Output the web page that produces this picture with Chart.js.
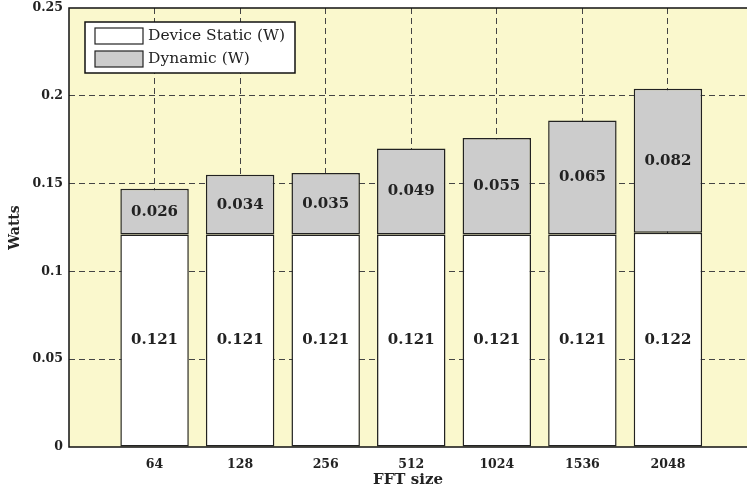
<!DOCTYPE html>
<html>
<head>
<meta charset="utf-8">
<script src="https://cdn.jsdelivr.net/npm/chart.js@4"></script>
<style>
  body { margin: 0; background: #fff; }
  #wrap { width: 747px; height: 492px; position: relative; }
</style>
</head>
<body>
<div id="wrap"><canvas id="chart"></canvas></div>
<script>
const fftSizes = ['64', '128', '256', '512', '1024', '1536', '2048'];
const staticW = [0.121, 0.121, 0.121, 0.121, 0.121, 0.121, 0.122];
const dynamicW = [0.026, 0.034, 0.035, 0.049, 0.055, 0.065, 0.082];
const yTicks = [0, 0.05, 0.1, 0.15, 0.2, 0.25];

const serif = 'DejaVu Serif';

// bars sit at x = 1..7 like matlab, axis starts at 0
const toPoints = (arr) => arr.map((v, i) => ({ x: i + 1, y: v }));

const plotBg = {
  id: 'plotBg',
  beforeDraw(chart) {
    const { ctx, chartArea: a } = chart;
    ctx.save();
    ctx.fillStyle = '#faf8cd';
    ctx.fillRect(a.left, a.top, a.right - a.left, a.bottom - a.top);
    ctx.restore();
  },
  afterDatasetsDraw(chart) {
    // solid box on left, bottom and top (right edge is off the page)
    const { ctx, chartArea: a } = chart;
    ctx.save();
    ctx.strokeStyle = '#111';
    ctx.lineWidth = 1.5;
    ctx.setLineDash([]);
    ctx.beginPath();
    ctx.moveTo(a.right, a.top);
    ctx.lineTo(a.left, a.top);
    ctx.lineTo(a.left, a.bottom);
    ctx.lineTo(a.right, a.bottom);
    ctx.stroke();
    ctx.restore();
  }
};

// numbers inside each bar segment
const barLabels = {
  id: 'barLabels',
  afterDatasetsDraw(chart) {
    const { ctx } = chart;
    ctx.save();
    ctx.font = 'bold 15px "' + serif + '"';
    ctx.fillStyle = '#222';
    ctx.textAlign = 'center';
    ctx.textBaseline = 'middle';
    chart.data.datasets.forEach((ds, di) => {
      chart.getDatasetMeta(di).data.forEach((bar, i) => {
        ctx.fillText(ds.data[i].y.toFixed(3), bar.x, (bar.y + bar.base) / 2);
      });
    });
    ctx.restore();
  }
};

// boxed legend in upper left of the axes
const boxLegend = {
  id: 'boxLegend',
  afterDraw(chart) {
    const { ctx, chartArea: a } = chart;
    const x = a.left + 16, y = a.top + 14, w = 210, h = 51;
    ctx.save();
    ctx.fillStyle = '#fff';
    ctx.fillRect(x, y, w, h);
    ctx.strokeStyle = '#111';
    ctx.lineWidth = 1.5;
    ctx.strokeRect(x, y, w, h);
    ctx.font = '15.5px "' + serif + '"';
    ctx.textBaseline = 'middle';
    chart.data.datasets.forEach((ds, i) => {
      const sy = y + 6 + i * 23;
      ctx.fillStyle = ds.backgroundColor;
      ctx.fillRect(x + 10, sy, 48, 16);
      ctx.strokeStyle = '#222';
      ctx.lineWidth = 1.2;
      ctx.strokeRect(x + 10, sy, 48, 16);
      ctx.fillStyle = '#222';
      ctx.fillText(ds.label, x + 63, sy + 8);
    });
    ctx.restore();
  }
};

new Chart(document.getElementById('chart'), {
  type: 'bar',
  data: {
    datasets: [
      {
        label: 'Device Static (W)',
        data: toPoints(staticW),
        backgroundColor: '#ffffff',
        borderColor: '#222',
        borderWidth: 1.5,
        borderSkipped: false,
        categoryPercentage: 1,
        barPercentage: 0.8
      },
      {
        label: 'Dynamic (W)',
        data: toPoints(dynamicW),
        backgroundColor: '#cccccc',
        borderColor: '#222',
        borderWidth: 1.5,
        borderSkipped: false,
        categoryPercentage: 1,
        barPercentage: 0.8
      }
    ]
  },
  options: {
    responsive: true,
    maintainAspectRatio: false,
    animation: false,
    layout: { padding: { top: 8, right: 0, left: 0, bottom: 0 } },
    plugins: {
      legend: { display: false },
      tooltip: { enabled: false }
    },
    scales: {
      x: {
        type: 'linear',
        stacked: true,
        offset: false,
        min: 0,
        max: 7.924,
        afterFit: (s) => { s.height = 45; s.paddingLeft = 0; s.paddingRight = 0; },
        afterBuildTicks: (s) => { s.ticks = [0, 1, 2, 3, 4, 5, 6, 7].map(v => ({ value: v })); },
        ticks: {
          padding: 10,
          color: '#222',
          font: { family: serif, weight: 'bold', size: 12.5 },
          callback: (v) => fftSizes[v - 1] || ''
        },
        grid: {
          offset: false,
          drawTicks: false,
          color: (c) => c.tick && c.tick.value === 0 ? 'rgba(0,0,0,0)' : '#444',
          lineWidth: 1
        },
        border: { display: false, dash: [6, 4] },
        title: {
          display: true,
          text: 'FFT size',
          color: '#222',
          padding: { top: 0, bottom: 3 },
          font: { family: serif, weight: 'bold', size: 15 }
        }
      },
      y: {
        stacked: true,
        min: 0,
        max: 0.25,
        afterFit: (s) => { s.width = 69; s.paddingTop = 0; s.paddingBottom = 0; },
        afterBuildTicks: (s) => { s.ticks = yTicks.map(v => ({ value: v })); },
        ticks: {
          padding: 6,
          color: '#222',
          font: { family: serif, weight: 'bold', size: 12.5 },
          callback: (v) => String(v)
        },
        grid: {
          drawTicks: false,
          color: (c) => c.tick && (c.tick.value === 0 || c.tick.value === 0.25) ? 'rgba(0,0,0,0)' : '#444',
          lineWidth: 1
        },
        border: { display: false, dash: [6, 4] },
        title: {
          display: true,
          text: 'Watts',
          color: '#222',
          padding: { top: 7, bottom: 0 },
          font: { family: serif, weight: 'bold', size: 14 }
        }
      }
    }
  },
  plugins: [plotBg, barLabels, boxLegend]
});
</script>
</body>
</html>
